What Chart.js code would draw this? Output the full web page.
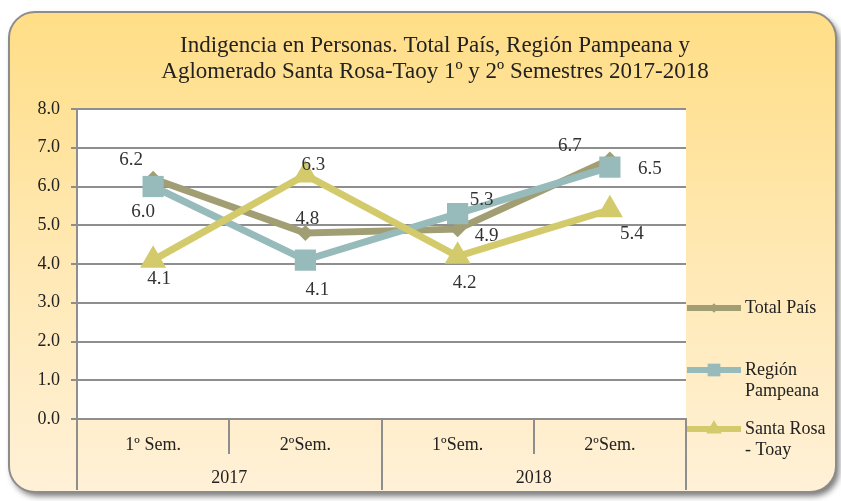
<!DOCTYPE html>
<html>
<head>
<meta charset="utf-8">
<script src="https://cdn.jsdelivr.net/npm/chart.js@4.4.0/dist/chart.umd.min.js"></script>
<style>
  html, body { margin: 0; padding: 0; background: #fff; }
  #wrap { width: 841px; height: 501px; }
</style>
</head>
<body>
<div id="wrap"><canvas id="chart" width="841" height="501"></canvas></div>
<script>
// datos
const semestres = ["1º Sem.", "2ºSem.", "1ºSem.", "2ºSem."];
const anios = ["2017", "2018"];
const totalPais = [6.2, 4.8, 4.9, 6.7];
const regionPampeana = [6.0, 4.1, 5.3, 6.5];
const santaRosaToay = [4.1, 6.3, 4.2, 5.4];
const yTicks = [0, 1, 2, 3, 4, 5, 6, 7, 8];

const titulo = ["Indigencia en Personas. Total País, Región Pampeana y",
                "Aglomerado Santa Rosa-Taoy 1º y 2º Semestres 2017-2018"];

const SERIF = "'Liberation Serif', 'DejaVu Serif', serif";
const GRIS = "#8e8e8e";

// desplazamiento de cada etiqueta respecto a su punto
const labelOffsets = [
    [[-22, -19], [2, -14], [29, 7], [-40, -13]],
    [[-10, 26], [12, 30], [24, -14], [40, 2]],
    [[6, 19], [8, -10], [7, 27], [22, 24]]
];

// leyenda: nombre en varias lineas
const legendLines = [["Total País"], ["Región", "Pampeana"], ["Santa Rosa", "- Toay"]];
const legendY = [308, 370, 429];

const fondoPlugin = {
    id: "fondo",
    beforeDraw(chart) {
        const ctx = chart.ctx;
        ctx.save();
        // tarjeta redondeada con degradado
        const x = 9, y = 12, w = 827, h = 480, r = 26;
        ctx.beginPath();
        ctx.roundRect(x, y, w, h, r);
        const g = ctx.createLinearGradient(0, y, 0, y + h);
        g.addColorStop(0, "#FFDE86");
        g.addColorStop(0.45, "#FFE7AE");
        g.addColorStop(1, "#FFF1D8");
        ctx.shadowColor = "rgba(0,0,0,0.55)";
        ctx.shadowBlur = 6;
        ctx.shadowOffsetX = 3;
        ctx.shadowOffsetY = 4;
        ctx.fillStyle = g;
        ctx.fill();
        ctx.shadowColor = "transparent";
        ctx.lineWidth = 2;
        ctx.strokeStyle = "#8c8c8c";
        ctx.stroke();
        // area de trazado blanca
        const a = chart.chartArea;
        ctx.fillStyle = "#ffffff";
        ctx.fillRect(a.left, a.top, a.right - a.left, a.bottom - a.top);
        ctx.restore();
    },
    afterDraw(chart) {
        const ctx = chart.ctx;
        ctx.save();
        // titulo
        ctx.fillStyle = "#222";
        ctx.font = "23px " + SERIF;
        ctx.textAlign = "center";
        ctx.textBaseline = "middle";
        ctx.fillText(titulo[0], 435, 46);
        ctx.fillText(titulo[1], 435, 72);

        // etiquetas de datos
        ctx.font = "19px " + SERIF;
        ctx.fillStyle = "#333";
        chart.data.datasets.forEach((ds, i) => {
            const meta = chart.getDatasetMeta(i);
            meta.data.forEach((pt, j) => {
                const off = labelOffsets[i][j];
                ctx.fillText(ds.data[j].toFixed(1), pt.x + off[0], pt.y + off[1]);
            });
        });

        // leyenda
        const x0 = chart.chartArea.right;
        ctx.font = "18px " + SERIF;
        chart.data.datasets.forEach((ds, i) => {
            const y = legendY[i];
            ctx.strokeStyle = ds.borderColor;
            ctx.lineWidth = 6;
            ctx.beginPath();
            ctx.moveTo(x0 + 1, y);
            ctx.lineTo(x0 + 55, y);
            ctx.stroke();
            ctx.fillStyle = ds.borderColor;
            Chart.helpers.drawPoint(ctx, {
                pointStyle: ds.pointStyle, radius: ds.pointRadius * 0.6,
                rotation: 0, borderWidth: 0
            }, x0 + 28, y);
            ctx.fillStyle = "#222";
            ctx.textAlign = "left";
            legendLines[i].forEach((t, k) => {
                ctx.fillText(t, x0 + 59, y + k * 21);
            });
        });
        ctx.restore();
    }
};

new Chart(document.getElementById("chart"), {
    type: "line",
    data: {
        labels: semestres,
        datasets: [
            {
                label: "Total País",
                data: totalPais,
                borderColor: "#A19E74",
                backgroundColor: "#A19E74",
                borderWidth: 7,
                pointStyle: "rectRot",
                pointRadius: 8,
                pointBorderWidth: 0,
                order: 2
            },
            {
                label: "Región Pampeana",
                data: regionPampeana,
                borderColor: "#97BBBA",
                backgroundColor: "#97BBBA",
                borderWidth: 7,
                pointStyle: "rect",
                pointRadius: 15,
                pointBorderWidth: 0,
                order: 1
            },
            {
                label: "Santa Rosa - Toay",
                data: santaRosaToay,
                borderColor: "#D3CA6B",
                backgroundColor: "#D3CA6B",
                borderWidth: 7,
                pointStyle: "triangle",
                pointRadius: 15,
                pointBorderWidth: 0,
                order: 0
            }
        ]
    },
    options: {
        responsive: false,
        animation: false,
        layout: { padding: { left: 0, right: 155, top: 109, bottom: 11 } },
        plugins: {
            legend: { display: false },
            title: { display: false },
            tooltip: { enabled: false }
        },
        scales: {
            y: {
                min: 0,
                max: 8,
                afterBuildTicks: (scale) => { scale.ticks = yTicks.map(v => ({ value: v })); },
                afterFit: (scale) => { scale.width = 77; },
                ticks: {
                    padding: 11,
                    color: "#222",
                    font: { family: SERIF, size: 18 },
                    callback: (v) => Number(v).toFixed(1)
                },
                grid: { color: GRIS, lineWidth: 2, tickLength: 6 },
                border: { display: true, color: GRIS, width: 2 }
            },
            x: {
                type: "category",
                offset: true,
                afterFit: (scale) => { scale.height = 35; },
                ticks: {
                    padding: -20,
                    color: "#222",
                    maxRotation: 0,
                    font: { family: SERIF, size: 18 }
                },
                grid: { offset: true, drawOnChartArea: false, color: GRIS, lineWidth: 2, tickLength: 35 },
                border: { display: true, color: GRIS, width: 2 }
            },
            x2: {
                type: "category",
                labels: anios,
                position: "bottom",
                offset: true,
                afterFit: (scale) => { scale.height = 36; },
                ticks: {
                    padding: -23,
                    color: "#222",
                    maxRotation: 0,
                    font: { family: SERIF, size: 18 }
                },
                grid: { offset: true, drawOnChartArea: false, color: GRIS, lineWidth: 2, tickLength: 36 },
                border: { display: false }
            }
        }
    },
    plugins: [fondoPlugin]
});
</script>
</body>
</html>
